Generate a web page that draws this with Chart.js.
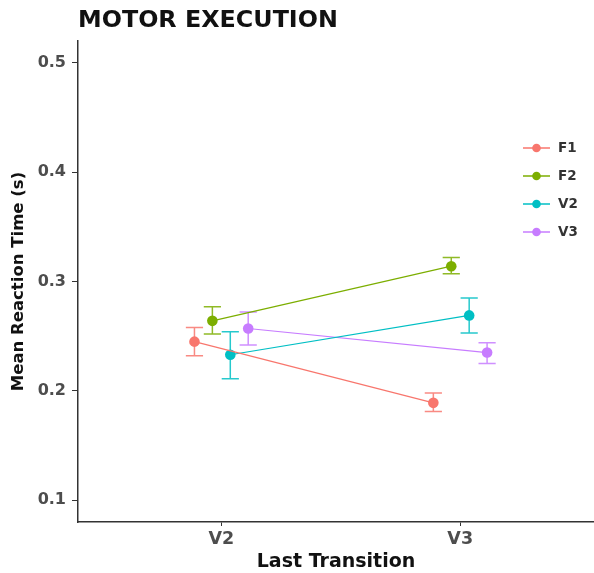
<!DOCTYPE html>
<html>
<head>
<meta charset="utf-8">
<title>Motor execution</title>
<script src="https://cdn.jsdelivr.net/npm/chart.js@4"></script>
<style>
  html, body { margin: 0; padding: 0; background: #fff; }
  #wrap { width: 594px; height: 573px; position: relative; }
</style>
</head>
<body>
<div id="wrap"><canvas id="chart"></canvas></div>
<script>
const title = 'MOTOR EXECUTION';
const categories = ['V2', 'V3'];
const seriesNames = ['F1', 'F2', 'V2', 'V3'];
const seriesColors = ['#F8766D', '#7CAE00', '#00BFC4', '#C77CFF'];

// mean reaction time per last transition (V2, V3)
const meanF1 = [0.245, 0.189];
const meanF2 = [0.264, 0.314];
const meanV2 = [0.233, 0.269];
const meanV3 = [0.257, 0.235];

// error bar ends
const lowF1 = [0.232, 0.181];
const highF1 = [0.258, 0.198];
const lowF2 = [0.252, 0.307];
const highF2 = [0.277, 0.322];
const lowV2 = [0.211, 0.253];
const highV2 = [0.254, 0.285];
const lowV3 = [0.242, 0.225];
const highV3 = [0.272, 0.244];

const yTicks = [0.1, 0.2, 0.3, 0.4, 0.5];

const means = [meanF1, meanF2, meanV2, meanV3];
const lows = [lowF1, lowF2, lowV2, lowV3];
const highs = [highF1, highF2, highV2, highV3];

// dodge width 0.3 shared between the four groups
const dodge = 0.3;
const offsetFor = s => -dodge / 2 + dodge / seriesNames.length * (s + 0.5);
const capHalf = 0.036;

const font = 'DejaVu Sans';

const datasets = seriesNames.map((name, s) => ({
  label: name,
  data: means[s].map((v, i) => ({ x: i + 1 + offsetFor(s), y: v })),
  borderColor: seriesColors[s],
  backgroundColor: seriesColors[s],
  borderWidth: 1.2,
  pointRadius: 5.3,
  pointHoverRadius: 5.3,
  pointBorderWidth: 0,
  tension: 0
}));

const errorBars = {
  id: 'errorBars',
  beforeDatasetsDraw(chart) {
    const { ctx, scales: { x, y } } = chart;
    ctx.save();
    ctx.lineWidth = 1.5;
    seriesNames.forEach((name, s) => {
      ctx.strokeStyle = seriesColors[s];
      ctx.globalAlpha = 0.85;
      means[s].forEach((v, i) => {
        const xv = i + 1 + offsetFor(s);
        const px = x.getPixelForValue(xv);
        const xl = x.getPixelForValue(xv - capHalf);
        const xr = x.getPixelForValue(xv + capHalf);
        const yl = y.getPixelForValue(lows[s][i]);
        const yh = y.getPixelForValue(highs[s][i]);
        ctx.beginPath();
        ctx.moveTo(px, yl); ctx.lineTo(px, yh);
        ctx.moveTo(xl, yl); ctx.lineTo(xr, yl);
        ctx.moveTo(xl, yh); ctx.lineTo(xr, yh);
        ctx.stroke();
      });
    });
    ctx.restore();
  }
};

const titleAndLegend = {
  id: 'titleAndLegend',
  afterDraw(chart) {
    const { ctx, chartArea } = chart;
    ctx.save();
    ctx.fillStyle = '#111';
    ctx.font = `bold 23.8px "${font}"`;
    ctx.textBaseline = 'alphabetic';
    ctx.textAlign = 'left';
    ctx.fillText(title, chartArea.left, 27);

    // legend keys: line with a dot, label on the right
    const keyX = 523, keyW = 27, textX = 558, firstY = 148, stepY = 28;
    ctx.font = `bold 13.5px "${font}"`;
    ctx.textBaseline = 'middle';
    seriesNames.forEach((name, s) => {
      const yy = firstY + s * stepY;
      ctx.strokeStyle = seriesColors[s];
      ctx.fillStyle = seriesColors[s];
      ctx.lineWidth = 1.5;
      ctx.beginPath();
      ctx.moveTo(keyX, yy); ctx.lineTo(keyX + keyW, yy);
      ctx.stroke();
      ctx.beginPath();
      ctx.arc(keyX + keyW / 2, yy, 4.3, 0, Math.PI * 2);
      ctx.fill();
      ctx.fillStyle = '#333';
      ctx.fillText(name, textX, yy);
    });
    ctx.restore();
  }
};

new Chart(document.getElementById('chart'), {
  type: 'line',
  data: { datasets },
  plugins: [errorBars, titleAndLegend],
  options: {
    responsive: true,
    maintainAspectRatio: false,
    animation: false,
    events: [],
    layout: { autoPadding: false, padding: { top: 41, right: 0, left: 0, bottom: 0 } },
    plugins: {
      legend: { display: false },
      title: { display: false },
      tooltip: { enabled: false }
    },
    scales: {
      x: {
        type: 'linear',
        min: 0.4,
        max: 2.56,
        afterFit(scale) {
          scale.height = 51;
          scale.paddingLeft = 0;
          scale.paddingRight = 0;
        },
        afterBuildTicks(scale) {
          scale.ticks = categories.map((c, i) => ({ value: i + 1 }));
        },
        ticks: {
          callback: v => categories[v - 1],
          color: '#4d4d4d',
          font: { family: font, size: 17.5, weight: 'bold' },
          padding: 3,
          maxRotation: 0
        },
        grid: {
          drawOnChartArea: false,
          drawTicks: true,
          tickLength: 4,
          tickColor: '#333'
        },
        border: { display: true, color: '#333', width: 1.5 },
        title: {
          display: true,
          text: 'Last Transition',
          color: '#111',
          font: { family: font, size: 19, weight: 'bold' },
          padding: { top: 0, bottom: 0 }
        }
      },
      y: {
        type: 'linear',
        min: 0.08,
        max: 0.52,
        afterFit(scale) { scale.width = 78; },
        afterBuildTicks(scale) {
          scale.ticks = yTicks.map(v => ({ value: v }));
        },
        ticks: {
          callback: v => v.toFixed(1),
          color: '#4d4d4d',
          font: { family: font, size: 16, weight: 'bold' },
          padding: 6
        },
        grid: {
          drawOnChartArea: false,
          drawTicks: true,
          tickLength: 6,
          tickColor: '#333'
        },
        border: { display: true, color: '#333', width: 1.5 },
        title: {
          display: true,
          text: 'Mean Reaction Time (s)',
          color: '#111',
          font: { family: font, size: 16.5, weight: 'bold' },
          padding: { top: 9, bottom: 0 }
        }
      }
    }
  }
});
</script>
</body>
</html>
